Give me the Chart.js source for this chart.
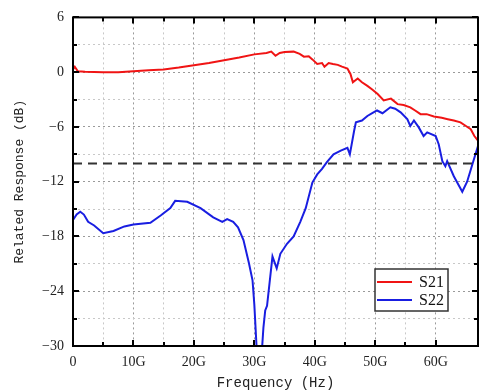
<!DOCTYPE html>
<html>
<head>
<meta charset="utf-8">
<script src="https://cdn.jsdelivr.net/npm/chart.js@4"></script>
<style>
  html, body { margin: 0; padding: 0; background: #fff; }
  #wrap { width: 480px; height: 390px; }
</style>
</head>
<body>
<div id="wrap"><canvas id="chart" width="480" height="390"></canvas></div>
<script>
// 频率 (GHz) 与 S21 响应 (dB)
const freqS21 = [0, 0.3, 0.8, 2, 5, 7.5, 10, 12.5, 15, 17.5, 20, 22.5, 25, 27.5, 30, 32, 32.8, 33.5, 34.2, 35,
  36.5, 37.5, 38.2, 39, 39.6, 40.4, 41.2, 41.6, 42.3, 43, 43.8, 44.5, 45.4, 45.9, 46.3, 47.1, 47.8, 48.7, 49.5, 50.4,
  51.4, 52.6, 53.7, 54.7, 55.8, 56.6, 57.5, 58.5, 59.7, 61, 62, 63, 64.1, 65, 65.8, 66.4, 67];
const s21 = [0.3, 0.6, 0.1, 0.05, 0, 0, 0.1, 0.2, 0.3, 0.5, 0.75, 1.0, 1.3, 1.6, 1.95, 2.1, 2.25, 1.8, 2.1, 2.2,
  2.25, 2.0, 1.7, 1.75, 1.4, 0.9, 1.0, 0.6, 1.0, 0.9, 0.8, 0.6, 0.4, -0.2, -1.1, -0.7, -1.1, -1.5, -1.9, -2.4,
  -3.1, -2.9, -3.5, -3.6, -3.85, -4.2, -4.6, -4.6, -4.85, -5.0, -5.15, -5.3, -5.5, -5.9, -6.25, -7.0, -7.5];

// 频率 (GHz) 与 S22 响应 (dB)
const freqS22 = [0, 0.6, 1.2, 1.8, 2.5, 3.5, 5, 6.7, 8.5, 10, 12.8, 14.5, 16.1, 16.9, 18.9, 21.1, 23.2, 24.7, 25.5, 26.5,
  27.3, 28.2, 29.1, 29.7, 30.0, 30.4, 30.8, 31.2, 31.5, 31.8, 32.1, 32.5, 33.0, 33.7, 34.3, 35.4, 36.5, 37.6, 38.5, 39.6,
  40.4, 41.2, 42.0, 43.1, 44.3, 45.4, 45.8, 46.5, 46.8, 47.8, 48.7, 49.5, 50.3, 51.2, 52.5, 53.3, 54.2, 55.3, 55.8, 56.4,
  57.2, 58.0, 58.6, 60.0, 60.5, 61.1, 61.6, 61.9, 63.0, 64.4, 65.2, 66.3, 67];
const s22 = [-16.2, -15.6, -15.3, -15.6, -16.4, -16.8, -17.65, -17.4, -16.9, -16.7, -16.5, -15.7, -14.9, -14.1, -14.2, -14.9, -15.9, -16.4, -16.1, -16.4,
  -17.0, -18.4, -20.9, -22.8, -25.5, -30.5, -32, -31, -28, -26.1, -25.6, -23.2, -20.2, -21.5, -19.9, -18.8, -18.0, -16.4, -14.9, -12.1,
  -11.2, -10.6, -9.85, -9.0, -8.6, -8.3, -9.0, -6.45, -5.5, -5.3, -4.8, -4.5, -4.2, -4.5, -3.85, -4.0, -4.4, -5.15, -5.9, -5.3,
  -6.05, -7.0, -6.6, -7.0, -7.9, -9.75, -10.3, -9.75, -11.4, -13.1, -12.0, -9.6, -8.1];

// -10 dB 参考线
const thresholdDb = -10;
const freqRange = [0, 67];
const dbRange = [-30, 6];

const toPoints = (xs, ys) => xs.map((x, i) => ({ x, y: ys[i] }));
const fmt = v => (v < 0 ? '\u2212' + Math.abs(v) : String(v));

// 边框、内向刻度和图例
const framePlugin = {
  id: 'frame',
  afterDatasetsDraw(chart) {
    const { ctx, chartArea: a, scales: { x, y } } = chart;
    ctx.save();
    ctx.strokeStyle = '#000';
    ctx.lineWidth = 2;
    ctx.beginPath();
    x.ticks.forEach(t => {
      const px = Math.round(x.getPixelForValue(t.value));
      const len = t.value % 10 === 0 ? 6 : 4;
      ctx.moveTo(px, a.bottom); ctx.lineTo(px, a.bottom - len);
      ctx.moveTo(px, a.top); ctx.lineTo(px, a.top + len);
    });
    y.ticks.forEach(t => {
      const py = Math.round(y.getPixelForValue(t.value));
      const len = t.value % 6 === 0 ? 6 : 4;
      ctx.moveTo(a.left, py); ctx.lineTo(a.left + len, py);
      ctx.moveTo(a.right, py); ctx.lineTo(a.right - len, py);
    });
    ctx.stroke();
    ctx.strokeRect(a.left, a.top, a.right - a.left, a.bottom - a.top);

    // 图例
    const items = chart.data.datasets.filter(d => d.label);
    const bx = a.right - 103, by = a.bottom - 77, bw = 73, bh = 42;
    ctx.fillStyle = '#fff';
    ctx.fillRect(bx, by, bw, bh);
    ctx.lineWidth = 1.5;
    ctx.strokeStyle = '#333';
    ctx.strokeRect(bx, by, bw, bh);
    ctx.font = '16px "Liberation Serif"';
    ctx.textBaseline = 'middle';
    items.forEach((d, i) => {
      const ly = by + 13 + i * 18;
      ctx.strokeStyle = d.borderColor;
      ctx.lineWidth = 2;
      ctx.beginPath();
      ctx.moveTo(bx + 2, ly); ctx.lineTo(bx + 37, ly);
      ctx.stroke();
      ctx.fillStyle = '#111';
      ctx.fillText(d.label, bx + 44, ly + 1);
    });
    ctx.restore();
  }
};

new Chart(document.getElementById('chart'), {
  type: 'line',
  data: {
    datasets: [
      {
        data: freqRange.map(x => ({ x, y: thresholdDb })),
        borderColor: '#333',
        borderWidth: 2,
        borderDash: [9, 6],
        pointRadius: 0
      },
      {
        label: 'S21',
        data: toPoints(freqS21, s21),
        borderColor: 'rgb(240,20,20)',
        borderWidth: 2,
        pointRadius: 0
      },
      {
        label: 'S22',
        data: toPoints(freqS22, s22),
        borderColor: 'rgb(25,30,225)',
        borderWidth: 2,
        pointRadius: 0
      }
    ]
  },
  options: {
    responsive: false,
    animation: false,
    layout: { padding: { top: 13, right: 2, left: 0, bottom: 0 } },
    plugins: { legend: { display: false }, tooltip: { enabled: false } },
    scales: {
      x: {
        type: 'linear',
        min: freqRange[0],
        max: freqRange[1],
        afterBuildTicks: s => { s.ticks = s.ticks.filter(t => t.value % 5 === 0); },
        afterFit: s => { s.height = 44; },
        ticks: {
          stepSize: 5,
          autoSkip: false,
          maxRotation: 0,
          padding: 8,
          color: '#222',
          font: { family: 'Liberation Serif', size: 14 },
          callback: v => (v % 10 === 0 ? (v === 0 ? '0' : v + 'G') : '')
        },
        grid: {
          drawTicks: false,
          color: c => (c.tick && c.tick.value % 10 === 0 ? '#9a9a9a' : '#c8c8c8'),
          lineWidth: 1
        },
        border: { display: false, dash: [2, 3] },
        title: {
          display: true,
          text: 'Frequency (Hz)',
          color: '#222',
          font: { family: 'Liberation Mono', size: 14 },
          padding: { top: 0, bottom: -2 }
        }
      },
      y: {
        min: dbRange[0],
        max: dbRange[1],
        afterFit: s => { s.width = 73; },
        ticks: {
          stepSize: 3,
          autoSkip: false,
          padding: 9,
          color: '#222',
          font: { family: 'Liberation Serif', size: 14 },
          callback: v => (v % 6 === 0 ? fmt(v) : '')
        },
        grid: {
          drawTicks: false,
          color: c => (c.tick && c.tick.value % 6 === 0 ? '#9a9a9a' : '#c8c8c8'),
          lineWidth: 1
        },
        border: { display: false, dash: [2, 3] },
        title: {
          display: true,
          text: 'Related Response (dB)',
          color: '#222',
          font: { family: 'Liberation Mono', size: 13 },
          padding: { top: 12, bottom: 0 }
        }
      }
    }
  },
  plugins: [framePlugin]
});
</script>
</body>
</html>
